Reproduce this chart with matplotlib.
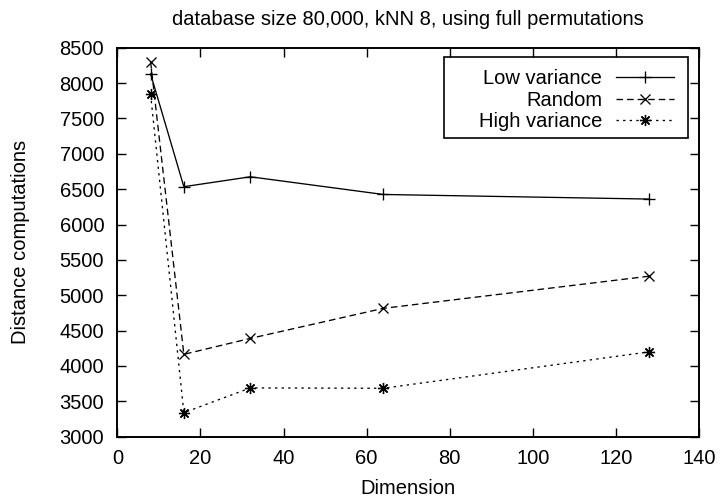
import matplotlib
matplotlib.use("Agg")
import matplotlib.pyplot as plt
from matplotlib.patches import Rectangle

plt.rcParams['font.family'] = ['Liberation Sans', 'DejaVu Sans']

dims = [8, 16, 32, 64, 128]
low_variance = [8130, 6535, 6675, 6425, 6360]
random_ = [8300, 4165, 4390, 4815, 5270]
high_variance = [7840, 3340, 3690, 3685, 4200]

title = "database size 80,000, kNN 8, using full permutations"
xlabel = "Dimension"
ylabel = "Distance computations"
xticks = [0, 20, 40, 60, 80, 100, 120, 140]
yticks = [3000, 3500, 4000, 4500, 5000, 5500, 6000, 6500, 7000, 7500, 8000, 8500]

fs = 14.5
fig = plt.figure(figsize=(7.2, 4.99), dpi=100)
ax = fig.add_axes([0.163, 0.1248, 0.971 - 0.163, 0.9044 - 0.1248])

lw = 0.95
ax.plot(dims, low_variance, color='black', lw=lw, linestyle='-',
        marker='+', markersize=8, markeredgewidth=lw, label='Low variance')
ax.plot(dims, random_, color='black', lw=lw, linestyle=(0, (5, 3)),
        marker='x', markersize=6.5, markeredgewidth=lw, label='Random')
ax.plot(dims, high_variance, color='black', lw=lw, linestyle=(0, (1.8, 3.2)),
        marker=(8, 2, 0), markersize=8, markeredgewidth=lw, label='High variance')

ax.set_xlim(0, 140)
ax.set_ylim(3000, 8500)
ax.set_xticks(xticks)
ax.set_yticks(yticks)
ax.tick_params(direction='in', length=6.5, width=1.0, top=True, right=True,
               labelsize=fs)
ax.tick_params(axis='x', pad=9)
ax.tick_params(axis='y', pad=9.5)
for s in ax.spines.values():
    s.set_linewidth(1.4)

ax.set_title(title, fontsize=fs, pad=16)
ax.set_xlabel(xlabel, fontsize=fs, labelpad=8)
ax.set_ylabel(ylabel, fontsize=fs, labelpad=21)

leg = ax.legend(loc='upper right', bbox_to_anchor=(0.972, 0.968), borderaxespad=0,
                markerfirst=False, frameon=False, fontsize=fs,
                handlelength=2.85, handletextpad=0.7, labelspacing=0.13,
                borderpad=0.45)
# gnuplot-style key box (wider on the left than the legend contents)
ax.add_patch(Rectangle((0.5613, 0.7679), 0.9806 - 0.5613, 0.9761 - 0.7679,
                       transform=ax.transAxes, fill=False, edgecolor='black',
                       linewidth=1.2, zorder=5))

fig.savefig('out.png', dpi=100)
